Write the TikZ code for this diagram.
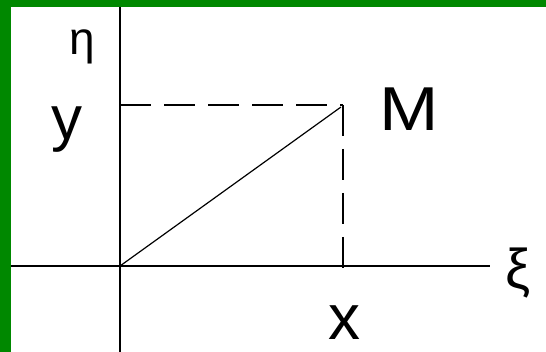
\documentclass[tikz,border=0pt]{standalone}
\usepackage{fontspec}
\setmainfont{Liberation Sans}
\definecolor{bordergreen}{RGB}{0,136,0}
\begin{document}
\begin{tikzpicture}[x=1pt,y=-1pt,
  axis/.style={line width=1.8pt,black},
  guide/.style={line width=1.8pt,black,dash pattern=on 31pt off 13pt},
  radius/.style={line width=1.2pt,black},
  biglabel/.style={inner sep=0pt,font=\fontsize{62}{72}\selectfont},
  greeklabel/.style={inner sep=0pt}]
\useasboundingbox (0,0) rectangle (546,352);
\fill[white] (0,0) rectangle (546,352);
\fill[bordergreen] (0,0) rectangle (546,7);
\fill[bordergreen] (0,0) rectangle (11,352);
\coordinate (O) at (120,266);
\coordinate (P) at (343,105);
\coordinate (Yd) at (120,105);
\coordinate (Xd) at (343,270);
\coordinate (vtop) at (120,7);
\coordinate (vbot) at (120,352);
\coordinate (hleft) at (11,266);
\coordinate (hright) at (490,266);
\coordinate (Pend) at (341,107);
\draw[axis] (vtop) -- (vbot);
\draw[axis] (hleft) -- (hright);
\draw[guide] (Yd) -- (P);
\draw[guide] (P) -- (Xd);
\draw[radius] (O) -- (Pend);
\node[biglabel] (ylab) at (67,130) {y};
\node[biglabel,xscale=1.15] (Mlab) at (409,109) {M};
\node[biglabel,font=\fontsize{64}{72}\selectfont] (xlab) at (344,323) {x};
\node[greeklabel,font=\fontsize{46}{52}\selectfont] (etalab) at (82,47) {η};
\node[greeklabel,font=\fontsize{56}{62}\selectfont] (xilab) at (518,273) {ξ};
\end{tikzpicture}
\end{document}
